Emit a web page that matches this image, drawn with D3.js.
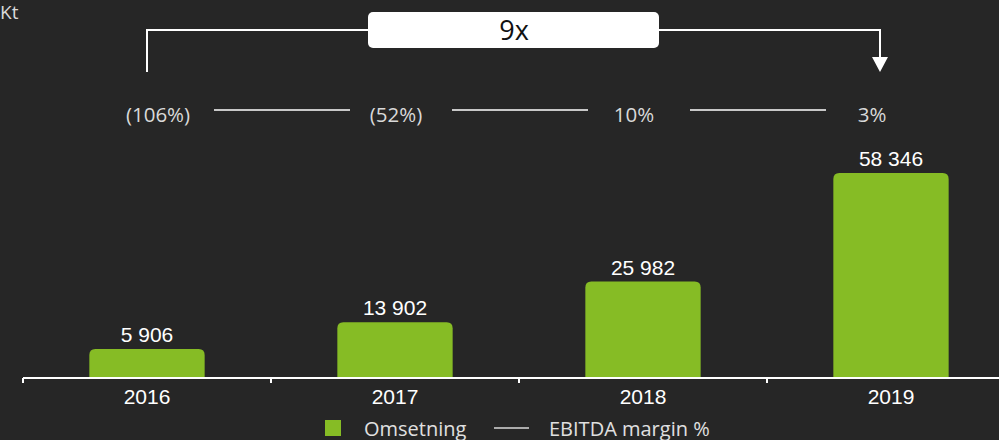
<!DOCTYPE html>
<meta charset="utf-8">
<style>
  body { margin: 0; background: #262626; }
  svg { display: block; }
  .num { font-family: "Liberation Sans", Arial, sans-serif; fill: #fff; }
  .lbl { font-family: "Open Sans", sans-serif; }
</style>

<body>
  <script src="https://cdn.jsdelivr.net/npm/d3@7"></script>
  <script>

    var years = ["2016", "2017", "2018", "2019"];
    var omsetning = [5906, 13902, 25982, 58346];
    var margins = ["(106%)", "(52%)", "10%", "3%"];
    var growthLabel = "9x";
    var unitLabel = "Kt";
    var legendItems = ["Omsetning", "EBITDA margin %"];

    var width = 999, height = 440;
    var green = "#86bc25";
    var axisY = 378;

    var svg = d3.select("body").append("svg")
      .attr("width", width)
      .attr("height", height);

    var x = d3.scaleBand()
      .domain(years)
      .range([23, 1015])
      .paddingInner(0.535)
      .paddingOuter(0.2675);

    // baseline sits a little below zero, like the original
    var y = d3.scaleLinear()
      .domain([-2740, d3.max(omsetning)])
      .range([axisY, 173]);

    // positions of the margin labels across the top
    var p = d3.scalePoint()
      .domain(years)
      .range([158, 872]);

    var fmt = function (v) { return d3.format(",")(v).replace(/,/g, " "); };

    // bars with rounded top corners
    var r = 6;
    svg.selectAll("path.bar")
      .data(omsetning)
      .enter().append("path")
      .attr("class", "bar")
      .attr("fill", green)
      .attr("d", function (d, i) {
        var x0 = x(years[i]), x1 = x0 + x.bandwidth(), t = y(d), b = axisY;
        return "M" + x0 + "," + b + "V" + (t + r) + "Q" + x0 + "," + t + " " + (x0 + r) + "," + t +
          "H" + (x1 - r) + "Q" + x1 + "," + t + " " + x1 + "," + (t + r) + "V" + b + "Z";
      });

    svg.selectAll("text.val")
      .data(omsetning)
      .enter().append("text")
      .attr("class", "num val")
      .attr("x", function (d, i) { return x(years[i]) + x.bandwidth() / 2; })
      .attr("y", function (d) { return y(d) - 7; })
      .attr("text-anchor", "middle")
      .attr("font-size", 21)
      .text(fmt);

    // x axis
    var xa = svg.append("g").attr("stroke", "#fff").attr("stroke-width", 2);
    xa.append("line").attr("x1", 23).attr("x2", width).attr("y1", axisY).attr("y2", axisY);
    xa.selectAll("line.tick")
      .data(years.concat(["end"]))
      .enter().append("line")
      .attr("x1", function (d, i) { return 23 + i * x.step(); })
      .attr("x2", function (d, i) { return 23 + i * x.step(); })
      .attr("y1", axisY)
      .attr("y2", axisY + 5);

    svg.selectAll("text.year")
      .data(years)
      .enter().append("text")
      .attr("class", "num year")
      .attr("x", function (d) { return x(d) + x.bandwidth() / 2; })
      .attr("y", 404)
      .attr("text-anchor", "middle")
      .attr("font-size", 21)
      .text(function (d) { return d; });

    // unit
    svg.append("text").attr("class", "lbl")
      .attr("x", 0).attr("y", 19)
      .attr("font-size", 19).attr("fill", "#d9d9d9")
      .text(unitLabel);

    // EBITDA margin row
    svg.selectAll("text.margin")
      .data(margins)
      .enter().append("text")
      .attr("class", "lbl margin")
      .attr("x", function (d, i) { return p(years[i]); })
      .attr("y", 122)
      .attr("text-anchor", "middle")
      .attr("font-size", 20.5)
      .attr("fill", "#d9d9d9")
      .text(function (d) { return d; });

    svg.selectAll("line.mline")
      .data(years.slice(0, -1))
      .enter().append("line")
      .attr("x1", function (d, i) { return p(years[i]) + 56; })
      .attr("x2", function (d, i) { return p(years[i + 1]) - 46; })
      .attr("y1", 110).attr("y2", 110)
      .attr("stroke", "#c8c8c8").attr("stroke-width", 2);

    // growth bracket
    var bx0 = x(years[0]) + x.bandwidth() / 2;
    var bx1 = x(years[3]) + x.bandwidth() / 2 - 11;
    var by = 30;
    svg.append("path")
      .attr("d", "M" + bx0 + ",72V" + by + "H" + bx1 + "V60")
      .attr("fill", "none").attr("stroke", "#fff").attr("stroke-width", 2);
    svg.append("path")
      .attr("d", "M" + (bx1 - 8) + ",57H" + (bx1 + 8) + "L" + bx1 + ",72Z")
      .attr("fill", "#fff");

    svg.append("rect")
      .attr("x", 368).attr("y", 12).attr("width", 291).attr("height", 36)
      .attr("rx", 5).attr("fill", "#fff");
    svg.append("text").attr("class", "lbl")
      .attr("x", 514).attr("y", 40)
      .attr("text-anchor", "middle")
      .attr("font-size", 27).attr("fill", "#111")
      .text(growthLabel);

    // legend
    var lg = svg.append("g");
    lg.append("rect").attr("x", 325).attr("y", 420).attr("width", 16).attr("height", 16).attr("fill", green);
    lg.append("text").attr("class", "lbl").attr("x", 364).attr("y", 436)
      .attr("font-size", 20).attr("fill", "#e0e0e0").text(legendItems[0]);
    lg.append("line").attr("x1", 494).attr("x2", 529).attr("y1", 428).attr("y2", 428)
      .attr("stroke", "#d9d9d9").attr("stroke-width", 1.5);
    lg.append("text").attr("class", "lbl").attr("x", 549).attr("y", 436)
      .attr("font-size", 20).attr("fill", "#e0e0e0").text(legendItems[1]);

  </script>
</body>

</html>
